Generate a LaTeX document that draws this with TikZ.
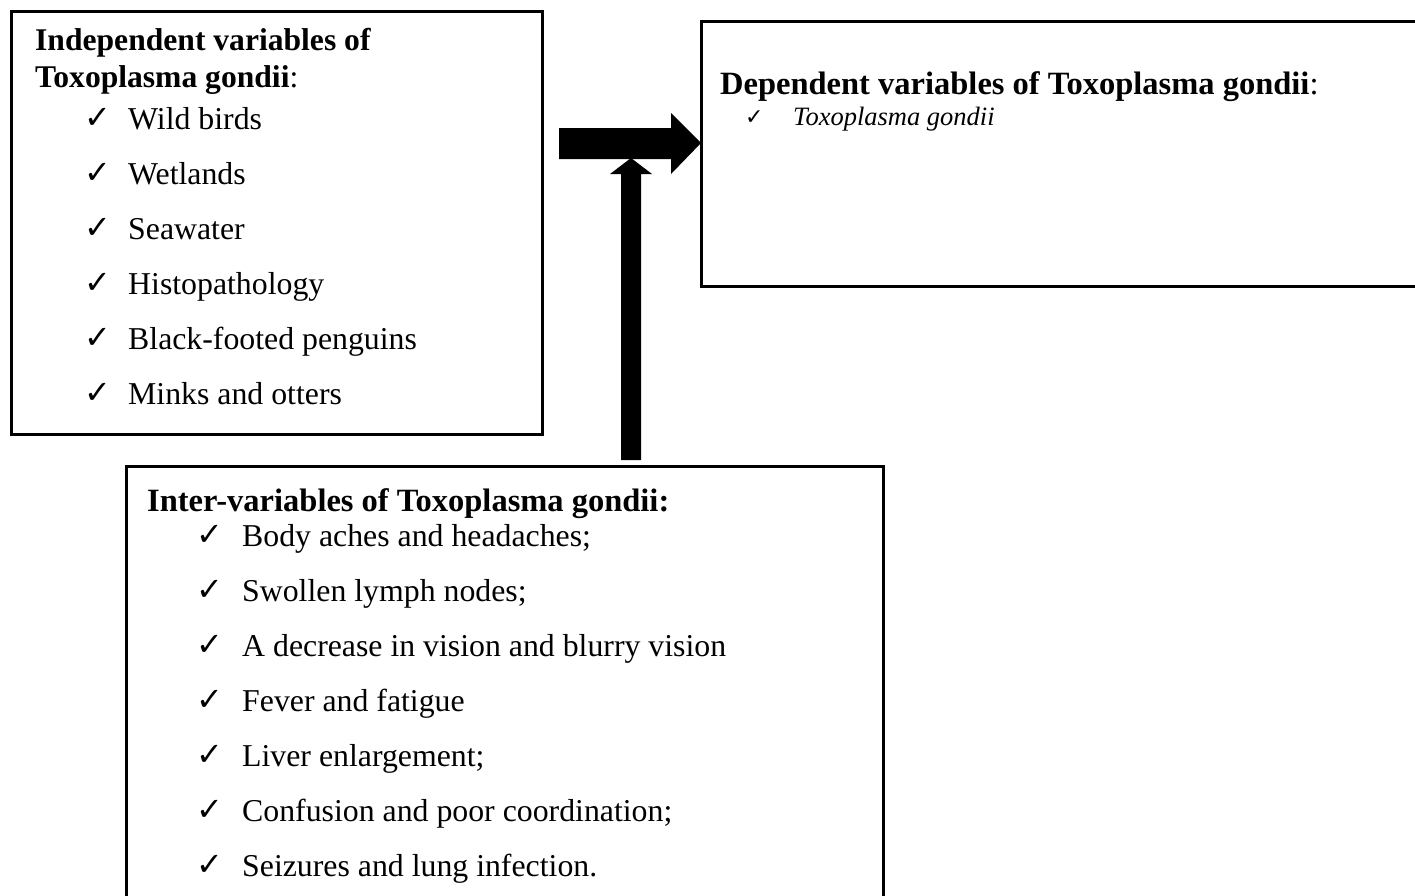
\documentclass[tikz,border=0pt]{standalone}
\usepackage{fontspec}
\setmainfont{Liberation Serif}
\newfontfamily\ckfont{DejaVu Sans}
\tikzset{
  box/.style={draw=black, line width=2.5pt, anchor=north west, inner sep=0pt},
  txt/.style={anchor=base west, inner sep=0pt, font=\fontsize{31.8}{37}\selectfont},
  ttl/.style={anchor=base west, inner sep=0pt, font=\fontsize{31.6}{37}\selectfont\bfseries},
  ttlb/.style={anchor=base west, inner sep=0pt, font=\fontsize{32.5}{37}\selectfont\bfseries},
  ck/.style={anchor=base west, inner sep=0pt, font=\ckfont\fontsize{32}{36}\selectfont},
  cks/.style={anchor=base west, inner sep=0pt, font=\ckfont\fontsize{22}{26}\selectfont},
  itl/.style={anchor=base west, inner sep=0pt, font=\fontsize{26.5}{30}\selectfont\itshape},
  blk/.style={fill=black, draw=none}
}
\begin{document}
\begin{tikzpicture}[x=1pt, y=-1pt]
\useasboundingbox (0,0) rectangle (1415,895);
\clip (0,0) rectangle (1415,895);
% boxes
\node[box, minimum width=531pt, minimum height=423pt] (indep) at (10,10) {};
\node[box, minimum width=725pt, minimum height=265pt] (dep) at (700,20) {};
\node[box, minimum width=757pt, minimum height=450pt] (inter) at (125,465) {};
% block arrows
\fill[blk] (559,128) -- (671,128) -- (671,113) -- (701,143) -- (671,174) -- (671,159) -- (559,159) -- cycle;
\fill[blk] (621,460) -- (621,174) -- (610,174) -- (631,158) -- (652,174) -- (641,174) -- (641,460) -- cycle;
% independent
\node[ttl] (it1) at (35,50) {Independent variables of};
\node[ttl] (it2) at (35,87) {Toxoplasma gondii\mdseries:};
\foreach \t [count=\i from 0] in {Wild birds, Wetlands, Seawater, Histopathology, Black-footed penguins, Minks and otters}{
  \node[ck] (ic\i) at (84,128+55*\i) {✓};
  \node[txt] (ix\i) at (128,129+55*\i) {\t};
}
% dependent
\node[ttlb] (dt) at (720,94) {Dependent variables of Toxoplasma gondii\mdseries:};
\node[cks] (dc) at (745,124) {✓};
\node[itl] (dx) at (793,125) {Toxoplasma gondii};
% inter
\node[ttlb] (nt) at (147,511) {Inter-variables of Toxoplasma gondii:};
\foreach \t [count=\i from 0] in {Body aches and headaches;, Swollen lymph nodes;, A decrease in vision and blurry vision, Fever and fatigue, Liver enlargement;, Confusion and poor coordination;, Seizures and lung infection.}{
  \node[ck] (nc\i) at (196,545+55*\i) {✓};
  \node[txt] (nx\i) at (242,546+55*\i) {\t};
}
\end{tikzpicture}
\end{document}
